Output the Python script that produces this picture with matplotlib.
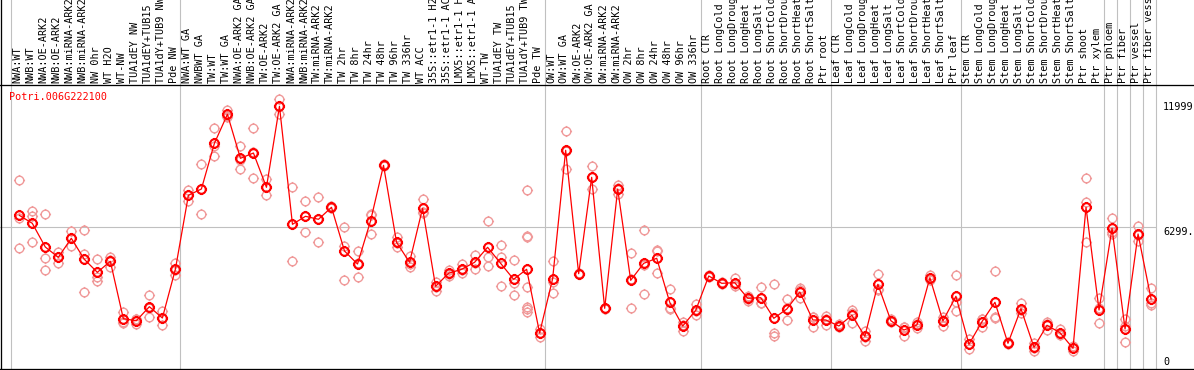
import numpy as np
import matplotlib
matplotlib.use("Agg")
import matplotlib.pyplot as plt
from matplotlib.path import Path
from matplotlib.lines import Line2D

title = "Potri.006G222100"

labels = [
    "NWA:WT", "NWB:WT", "NWA:OE-ARK2", "NWB:OE-ARK2", "NWA:miRNA-ARK2", "NWB:miRNA-ARK2",
    "NW 0hr", "WT H2O", "WT-NW", "TUA1dEY NW", "TUA1dEY+TUB15", "TUA1dY+TUB9 NW", "Pde NW",
    "NWA:WT GA", "NWBWT GA", "TW:WT", "TW:WT GA", "NWA:OE-ARK2 GA", "NWB:OE-ARK2 GA",
    "TW:OE-ARK2", "TW:OE-ARK2 GA", "NWA:miRNA-ARK2", "NWB:miRNA-ARK2", "TW:miRNA-ARK2",
    "TW:miRNA-ARK2", "TW 2hr", "TW 8hr", "TW 24hr", "TW 48hr", "TW 96hr", "TW 336hr",
    "WT ACC", "35S::etr1-1 H2", "35S::etr1-1 AC", "LMX5::etr1-1 H", "LMX5::etr1-1 A",
    "WT-TW", "TUA1dEY TW", "TUA1dEY+TUB15", "TUA1dY+TUB9 TW", "Pde TW",
    "OW:WT", "OW:WT GA", "OW:OE-ARK2", "OW:OE-ARK2 GA", "OW:miRNA-ARK2", "OW:miRNA-ARK2",
    "OW 2hr", "OW 8hr", "OW 24hr", "OW 48hr", "OW 96hr", "OW 336hr",
    "Root CTR", "Root LongCold", "Root LongDroug", "Root LongHeat", "Root LongSalt",
    "Root ShortCold", "Root ShortDrou", "Root ShortHeat", "Root ShortSalt", "Ptr root",
    "Leaf CTR", "Leaf LongCold", "Leaf LongDroug", "Leaf LongHeat", "Leaf LongSalt",
    "Leaf ShortCold", "Leaf ShortDrou", "Leaf ShortHeat", "Leaf ShortSalt", "Ptr leaf",
    "Stem CTR", "Stem LongCold", "Stem LongDroug", "Stem LongHeat", "Stem LongSalt",
    "Stem ShortCold", "Stem ShortDrou", "Stem ShortHeat", "Stem ShortSalt",
    "Ptr shoot", "Ptr xylem", "Ptr phloem", "Ptr fiber", "Ptr vessel", "Ptr fiber vess",
]

means = [
    6831, 6475, 5422, 4964, 5808, 4875, 4297, 4786, 2235, 2146, 2769, 2266, 4431,
    7719, 8000, 10030, 11319, 9364, 9599, 8075, 11675, 6430, 6786, 6653, 7186, 5244,
    4666, 6577, 9052, 5631, 4742, 7142, 3675, 4253, 4431, 4742, 5408, 4697, 3986,
    4431, 1600,
    4013, 9719, 4235, 8519, 2697, 8000, 3942, 4697, 4920, 2964, 1911, 2609,
    4133, 3808, 3835, 3142, 3169, 2253, 2666, 3422, 2178, 2178,
    1911, 2386, 1453, 3764, 2146, 1733, 1955, 4057, 2133, 3231,
    1098, 2102, 2964, 1142, 2680, 964, 1942, 1613, 920, 7186, 2622,
    6253, 1778, 6000, 3111,
]

replicates = [
    [8400, 6697, 5364], [7022, 6800, 5657], [6889, 4920, 4386], [5213, 4960, 4724],
    [6133, 5820, 5466], [6177, 5111, 3422], [4875, 4102, 3897], [4991, 4850, 4520],
    [2546, 2102, 2060], [2230, 2209, 2000], [3275, 2710, 2324], [2591, 2250, 1955],
    [4724, 4400, 4164], [7955, 7740, 7466], [9110, 8010, 6875], [10697, 9930, 9466],
    [11510, 11240, 11212], [9910, 9300, 8875], [10697, 9630, 8475], [8430, 8070, 7719],
    [11999, 11700, 11319], [8075, 6430, 4786], [7466, 6800, 6075], [7630, 6650, 5631],
    [7230, 7186, 7140], [6297, 5480, 3942], [5231, 4690, 4075], [6901, 6844, 5986],
    [9100, 9052, 9000], [5880, 5600, 5408], [5035, 4670, 4520], [7541, 6970, 6919],
    [3880, 3660, 3480], [4400, 4210, 4146], [4653, 4390, 4253], [5066, 4730, 4431],
    [6577, 4977, 4591], [5511, 4991, 3689], [4831, 3840, 3289],
    [7955, 5920, 5850, 3631, 2740, 2650, 2550], [1791, 1590, 1422],
    [4786, 3860, 3391], [10563, 9690, 8901], [4280, 4235, 4200], [9008, 8540, 8013],
    [2720, 2697, 2670], [8191, 8030, 7777], [5142, 3990, 2697], [6164, 4600, 3333],
    [5275, 5230, 4253], [3542, 2700, 2653], [2075, 1960, 1702], [2875, 2570, 2386],
    [4180, 4133, 4090], [3850, 3808, 3770], [4057, 3760, 3689], [3257, 3130, 3035],
    [3631, 2946, 2930], [3764, 1586, 1467], [3097, 2720, 2178], [3613, 3500, 3155],
    [2330, 2324, 1880], [2369, 2220, 1942],
    [1990, 1911, 1870], [2622, 2500, 2031], [1702, 1400, 1258], [4222, 3560, 3511],
    [2240, 2146, 2100], [1880, 1850, 1467], [2075, 1980, 1808], [4177, 4040, 3955],
    [2324, 2160, 1911], [4164, 2991, 2578],
    [1320, 1100, 875], [2220, 2209, 1880], [4342, 2300, 2253], [1180, 1142, 1100],
    [2946, 2622, 2470], [1142, 940, 813], [2102, 1990, 1733], [1778, 1550, 1511],
    [1000, 950, 813], [8475, 7408, 5657], [3142, 2690, 2031],
    [6697, 6080, 5990], [2209, 1910, 1213], [6355, 5940, 5702], [3586, 2920, 2844],
]

group_bounds = [0, 13, 41, 53, 63, 73, 84, 85, 86, 87, 88]
ytick_values = [11999, 6299, 0]
ytick_texts = ["11999", "6299.", "0"]
grid_value = 6299

# ---------------------------------------------------------------
W, H, DPI = 1194, 370, 100
fig = plt.figure(figsize=(W / DPI, H / DPI), dpi=DPI)
fig.patch.set_facecolor("white")

ax_left_px, ax_right_px = 0.0, 1156.0
ax_top_px, ax_bot_px = 85.0, 369.0
ax = fig.add_axes([ax_left_px / W, (H - ax_bot_px) / H,
                   (ax_right_px - ax_left_px) / W, (ax_bot_px - ax_top_px) / H])
ax.set_facecolor("none")
for s in ax.spines.values():
    s.set_visible(False)
ax.set_xticks([])
ax.set_yticks([])

n = len(labels)
px_per_col = 13.0
col0_px = 11.2
ax.set_xlim(-col0_px / px_per_col, n)
ax.set_ylim(0, 12622)

mono = "DejaVu Sans Mono"
fs = 7.3

# custom marker: circle with 4 small ticks
theta = np.linspace(0, 2 * np.pi, 41)
circ = Path(np.column_stack([np.cos(theta), np.sin(theta)]))
ticks = []
for dx, dy in [(0, 1), (0, -1), (1, 0), (-1, 0)]:
    ticks.append(Path([(dx * 1.0, dy * 1.0), (dx * 1.3, dy * 1.3)], [Path.MOVETO, Path.LINETO]))
marker_path = Path.make_compound_path(circ, *ticks)

xpos = np.arange(n) + 0.62

# group separators (through label area too)
ext = (H - ax_top_px + (ax_bot_px - ax_top_px)) / (ax_bot_px - ax_top_px)
for b in group_bounds:
    ax.axvline(b, ymin=0, ymax=ext, color="#c0c0c0", lw=0.8, clip_on=False, zorder=1)
ax.axhline(grid_value, color="#c0c0c0", lw=0.8, zorder=1)

# replicates
for x, reps in zip(xpos, replicates):
    ax.plot([x] * len(reps), reps, linestyle="none", marker=marker_path, ms=8.0,
            mfc="none", mec="#f09a9a", mew=1.0, zorder=2, clip_on=False)

# means
ax.plot(xpos, means, color="#ff0000", lw=0.9, zorder=3)
ax.plot(xpos, means, linestyle="none", marker=marker_path, ms=8.0,
        mfc="none", mec="#ff0000", mew=1.5, zorder=4)

# column labels
for i, lab in enumerate(labels):
    ax.annotate(lab, xy=(i + 0.5, 1.0), xycoords=("data", "axes fraction"),
                xytext=(0, 2), textcoords="offset pixels",
                rotation=90, ha="center", va="bottom", family=mono, fontsize=fs,
                color="black", annotation_clip=False)

# title
ax.annotate(title, xy=(0, 1), xycoords="axes fraction", xytext=(9, -12),
            textcoords="offset pixels", ha="left", va="center", family=mono,
            fontsize=fs, color="#ff0000")

# y labels on right
offs = {0: (-8, "center"), 1: (-5, "center"), 2: (7, "center")}
for j, (v, t) in enumerate(zip(ytick_values, ytick_texts)):
    dy, va = offs[j]
    ax.annotate(t, xy=(1, v), xycoords=("axes fraction", "data"),
                xytext=(7, dy), textcoords="offset pixels", ha="left", va=va,
                family=mono, fontsize=fs, color="black", annotation_clip=False)

# frame lines
lwpx = 72.0 / DPI * 1.3
fig.add_artist(Line2D([0, 1], [(H - ax_top_px) / H] * 2, transform=fig.transFigure,
                      color="black", lw=lwpx))
fig.add_artist(Line2D([0, 1], [(H - ax_bot_px) / H] * 2, transform=fig.transFigure,
                      color="black", lw=lwpx))
fig.add_artist(Line2D([0.6 / W] * 2, [0, 1], transform=fig.transFigure,
                      color="black", lw=lwpx))

fig.savefig("out.png", dpi=DPI, facecolor="white")
